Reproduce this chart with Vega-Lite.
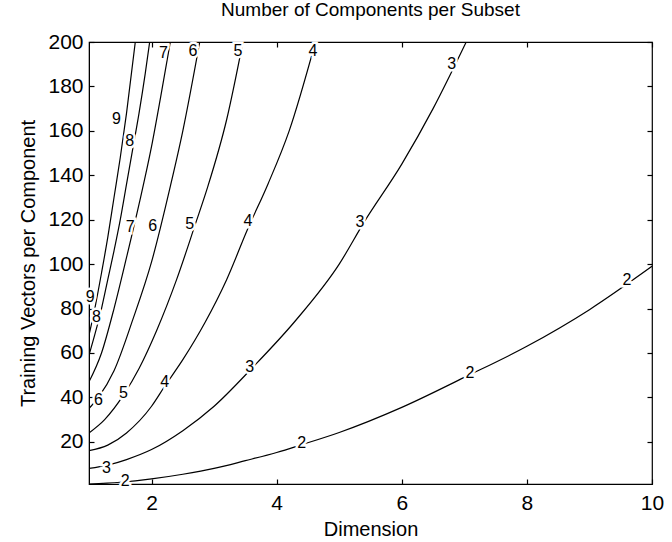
{
  "$schema": "https://vega.github.io/schema/vega-lite/v6.json",
  "autosize": "none",
  "width": 563,
  "height": 442,
  "padding": {"left": 89, "top": 42, "right": 20, "bottom": 58},
  "background": "white",
  "title": {
    "text": "Number of Components per Subset",
    "font": "Liberation Sans",
    "fontSize": 19,
    "fontWeight": "normal",
    "color": "black",
    "anchor": "middle",
    "offset": 11
  },
  "config": {
    "view": {"stroke": "black", "strokeWidth": 1.2},
    "axis": {
      "grid": false,
      "labelFont": "Liberation Sans",
      "labelFontSize": 21,
      "labelColor": "black",
      "labelFlush": false,
      "labelOverlap": false,
      "titleFont": "Liberation Sans",
      "titleFontSize": 20,
      "titleFontWeight": "normal",
      "titleColor": "black",
      "domainColor": "black",
      "tickColor": "black",
      "tickWidth": 1.2,
      "tickSize": 5
    }
  },
  "datasets": {
    "contours": [
      {"level": 2, "step": 0, "dimension": 1.0, "vectors": 1},
      {"level": 2, "step": 1, "dimension": 1.5, "vectors": 1.8},
      {"level": 2, "step": 2, "dimension": 2.0, "vectors": 3.3},
      {"level": 2, "step": 3, "dimension": 2.5, "vectors": 5.4},
      {"level": 2, "step": 4, "dimension": 3.0, "vectors": 8},
      {"level": 2, "step": 5, "dimension": 3.5, "vectors": 11.5},
      {"level": 2, "step": 6, "dimension": 4.0, "vectors": 15.2},
      {"level": 2, "step": 7, "dimension": 4.4, "vectors": 18.7},
      {"level": 2, "step": 8, "dimension": 5.0, "vectors": 24.2},
      {"level": 2, "step": 9, "dimension": 6.0, "vectors": 35.5},
      {"level": 2, "step": 10, "dimension": 7.0, "vectors": 49},
      {"level": 2, "step": 11, "dimension": 8.0, "vectors": 63},
      {"level": 2, "step": 12, "dimension": 9.0, "vectors": 79.5},
      {"level": 2, "step": 13, "dimension": 10.0, "vectors": 99},

      {"level": 3, "step": 0, "dimension": 1.0, "vectors": 8},
      {"level": 3, "step": 1, "dimension": 1.3, "vectors": 9.5},
      {"level": 3, "step": 2, "dimension": 1.6, "vectors": 12},
      {"level": 3, "step": 3, "dimension": 2.0, "vectors": 16.5},
      {"level": 3, "step": 4, "dimension": 2.5, "vectors": 25},
      {"level": 3, "step": 5, "dimension": 3.0, "vectors": 36},
      {"level": 3, "step": 6, "dimension": 3.6, "vectors": 53},
      {"level": 3, "step": 7, "dimension": 4.3, "vectors": 74.5},
      {"level": 3, "step": 8, "dimension": 5.0, "vectors": 100},
      {"level": 3, "step": 9, "dimension": 5.4, "vectors": 119},
      {"level": 3, "step": 10, "dimension": 6.0, "vectors": 145},
      {"level": 3, "step": 11, "dimension": 6.5, "vectors": 170},
      {"level": 3, "step": 12, "dimension": 7.03, "vectors": 200},

      {"level": 4, "step": 0, "dimension": 1.0, "vectors": 16},
      {"level": 4, "step": 1, "dimension": 1.3, "vectors": 18.5},
      {"level": 4, "step": 2, "dimension": 1.6, "vectors": 24},
      {"level": 4, "step": 3, "dimension": 2.0, "vectors": 36},
      {"level": 4, "step": 4, "dimension": 2.21, "vectors": 45},
      {"level": 4, "step": 5, "dimension": 2.5, "vectors": 57},
      {"level": 4, "step": 6, "dimension": 2.85, "vectors": 73.5},
      {"level": 4, "step": 7, "dimension": 3.2, "vectors": 93},
      {"level": 4, "step": 8, "dimension": 3.54, "vectors": 116},
      {"level": 4, "step": 9, "dimension": 3.86, "vectors": 136},
      {"level": 4, "step": 10, "dimension": 4.2, "vectors": 160},
      {"level": 4, "step": 11, "dimension": 4.62, "vectors": 200},

      {"level": 5, "step": 0, "dimension": 1.0, "vectors": 24},
      {"level": 5, "step": 1, "dimension": 1.25, "vectors": 30},
      {"level": 5, "step": 2, "dimension": 1.55, "vectors": 41},
      {"level": 5, "step": 3, "dimension": 1.8, "vectors": 53},
      {"level": 5, "step": 4, "dimension": 2.08, "vectors": 70},
      {"level": 5, "step": 5, "dimension": 2.4, "vectors": 93},
      {"level": 5, "step": 6, "dimension": 2.7, "vectors": 118},
      {"level": 5, "step": 7, "dimension": 2.9, "vectors": 135},
      {"level": 5, "step": 8, "dimension": 3.2, "vectors": 165},
      {"level": 5, "step": 9, "dimension": 3.46, "vectors": 200},

      {"level": 6, "step": 0, "dimension": 1.0, "vectors": 35},
      {"level": 6, "step": 1, "dimension": 1.15, "vectors": 40},
      {"level": 6, "step": 2, "dimension": 1.4, "vectors": 52},
      {"level": 6, "step": 3, "dimension": 1.7, "vectors": 75},
      {"level": 6, "step": 4, "dimension": 2.0, "vectors": 101},
      {"level": 6, "step": 5, "dimension": 2.3, "vectors": 135},
      {"level": 6, "step": 6, "dimension": 2.5, "vectors": 160},
      {"level": 6, "step": 7, "dimension": 2.77, "vectors": 200},

      {"level": 7, "step": 0, "dimension": 1.0, "vectors": 47},
      {"level": 7, "step": 1, "dimension": 1.2, "vectors": 60},
      {"level": 7, "step": 2, "dimension": 1.4, "vectors": 80},
      {"level": 7, "step": 3, "dimension": 1.6, "vectors": 103},
      {"level": 7, "step": 4, "dimension": 1.8, "vectors": 127},
      {"level": 7, "step": 5, "dimension": 2.0, "vectors": 153},
      {"level": 7, "step": 6, "dimension": 2.15, "vectors": 176},
      {"level": 7, "step": 7, "dimension": 2.3, "vectors": 200},

      {"level": 8, "step": 0, "dimension": 1.0, "vectors": 59},
      {"level": 8, "step": 1, "dimension": 1.1, "vectors": 69},
      {"level": 8, "step": 2, "dimension": 1.2, "vectors": 80},
      {"level": 8, "step": 3, "dimension": 1.3, "vectors": 93},
      {"level": 8, "step": 4, "dimension": 1.4, "vectors": 106},
      {"level": 8, "step": 5, "dimension": 1.5, "vectors": 120},
      {"level": 8, "step": 6, "dimension": 1.6, "vectors": 136},
      {"level": 8, "step": 7, "dimension": 1.7, "vectors": 152},
      {"level": 8, "step": 8, "dimension": 1.8, "vectors": 168},
      {"level": 8, "step": 9, "dimension": 1.9, "vectors": 186},
      {"level": 8, "step": 10, "dimension": 1.97, "vectors": 200},

      {"level": 9, "step": 0, "dimension": 1.0, "vectors": 68},
      {"level": 9, "step": 1, "dimension": 1.1, "vectors": 81},
      {"level": 9, "step": 2, "dimension": 1.2, "vectors": 96},
      {"level": 9, "step": 3, "dimension": 1.3, "vectors": 112},
      {"level": 9, "step": 4, "dimension": 1.4, "vectors": 130},
      {"level": 9, "step": 5, "dimension": 1.5, "vectors": 148},
      {"level": 9, "step": 6, "dimension": 1.6, "vectors": 168},
      {"level": 9, "step": 7, "dimension": 1.74, "vectors": 200}
    ],
    "labels": [
      {"level": 2, "dimension": 1.58, "vectors": 2.3},
      {"level": 2, "dimension": 4.4, "vectors": 19.5},
      {"level": 2, "dimension": 7.09, "vectors": 51},
      {"level": 2, "dimension": 9.6, "vectors": 93},
      {"level": 3, "dimension": 1.28, "vectors": 8},
      {"level": 3, "dimension": 3.57, "vectors": 53.5},
      {"level": 3, "dimension": 5.33, "vectors": 119},
      {"level": 3, "dimension": 6.8, "vectors": 190},
      {"level": 4, "dimension": 2.21, "vectors": 47},
      {"level": 4, "dimension": 3.54, "vectors": 119.5},
      {"level": 4, "dimension": 4.58, "vectors": 196},
      {"level": 5, "dimension": 1.55, "vectors": 42},
      {"level": 5, "dimension": 2.61, "vectors": 118},
      {"level": 5, "dimension": 3.38, "vectors": 196},
      {"level": 6, "dimension": 1.15, "vectors": 39},
      {"level": 6, "dimension": 2.02, "vectors": 117},
      {"level": 6, "dimension": 2.66, "vectors": 196},
      {"level": 7, "dimension": 1.66, "vectors": 116.5},
      {"level": 7, "dimension": 2.19, "vectors": 195},
      {"level": 8, "dimension": 1.12, "vectors": 76},
      {"level": 8, "dimension": 1.65, "vectors": 155.5},
      {"level": 9, "dimension": 1.02, "vectors": 85},
      {"level": 9, "dimension": 1.44, "vectors": 165.5}
    ]
  },
  "resolve": {"axis": {"x": "independent", "y": "independent"}},
  "layer": [
    {
      "data": {"name": "contours"},
      "mark": {"type": "line", "color": "black", "strokeWidth": 1.2, "interpolate": "monotone", "clip": true},
      "encoding": {
        "x": {
          "field": "dimension", "type": "quantitative",
          "scale": {"domain": [1, 10], "nice": false, "zero": false},
          "axis": {"orient": "bottom", "values": [2, 4, 6, 8, 10], "ticks": false, "labelPadding": 8, "title": "Dimension", "titlePadding": 6}
        },
        "y": {
          "field": "vectors", "type": "quantitative",
          "scale": {"domain": [1, 200], "nice": false, "zero": false},
          "axis": {"orient": "left", "values": [20, 40, 60, 80, 100, 120, 140, 160, 180, 200], "ticks": false, "labelPadding": 6, "title": "Training Vectors per Component", "titlePadding": 9}
        },
        "detail": {"field": "level"},
        "order": {"field": "step", "type": "quantitative"}
      }
    },
    {
      "data": {"name": "labels"},
      "mark": {"type": "text", "font": "Liberation Sans", "fontSize": 16, "color": "white", "stroke": "white", "strokeWidth": 5, "align": "center", "baseline": "middle"},
      "encoding": {
        "x": {"field": "dimension", "type": "quantitative", "axis": null},
        "y": {"field": "vectors", "type": "quantitative", "axis": null},
        "text": {"field": "level"}
      }
    },
    {
      "data": {"name": "labels"},
      "mark": {"type": "text", "font": "Liberation Sans", "fontSize": 16, "color": "black", "align": "center", "baseline": "middle"},
      "encoding": {
        "x": {"field": "dimension", "type": "quantitative", "axis": null},
        "y": {"field": "vectors", "type": "quantitative", "axis": null},
        "text": {"field": "level"}
      }
    },
    {
      "data": {"name": "contours"},
      "mark": {"type": "line", "opacity": 0},
      "encoding": {
        "x": {
          "field": "dimension", "type": "quantitative",
          "axis": {"orient": "top", "offset": -5, "domain": false, "values": [2, 4, 6, 8, 10], "labels": false, "title": null}
        },
        "y": {
          "field": "vectors", "type": "quantitative",
          "axis": {"orient": "right", "offset": -5, "domain": false, "values": [20, 40, 60, 80, 100, 120, 140, 160, 180, 200], "labels": false, "title": null}
        },
        "detail": {"field": "level"},
        "order": {"field": "step", "type": "quantitative"}
      }
    },
    {
      "data": {"name": "contours"},
      "mark": {"type": "line", "opacity": 0},
      "encoding": {
        "x": {
          "field": "dimension", "type": "quantitative",
          "axis": {"orient": "bottom", "offset": -5, "domain": false, "values": [2, 4, 6, 8, 10], "labels": false, "title": null}
        },
        "y": {
          "field": "vectors", "type": "quantitative",
          "axis": {"orient": "left", "offset": -5, "domain": false, "values": [20, 40, 60, 80, 100, 120, 140, 160, 180, 200], "labels": false, "title": null}
        },
        "detail": {"field": "level"},
        "order": {"field": "step", "type": "quantitative"}
      }
    }
  ]
}
